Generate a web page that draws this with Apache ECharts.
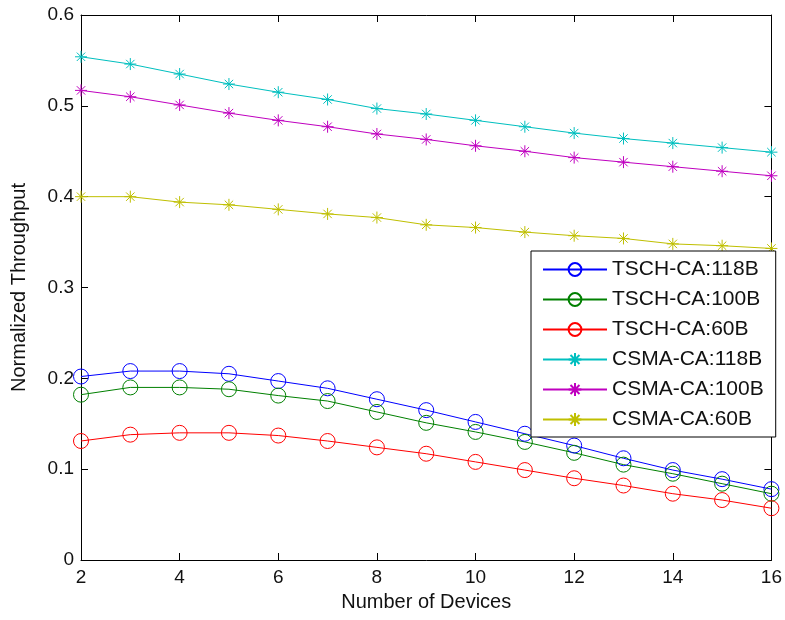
<!DOCTYPE html>
<html>
<head>
<meta charset="utf-8">
<script src="https://cdn.jsdelivr.net/npm/echarts@6/dist/echarts.min.js"></script>
<style>html,body{margin:0;padding:0;background:#fff}#c{width:785px;height:620px}</style>
</head>
<body>
<div id="c"></div>
<script>
const devices = [2,3,4,5,6,7,8,9,10,11,12,13,14,15,16];
const seriesNames = ['TSCH-CA:118B','TSCH-CA:100B','TSCH-CA:60B','CSMA-CA:118B','CSMA-CA:100B','CSMA-CA:60B'];
const tsch118 = [0.202,0.208,0.208,0.205,0.197,0.189,0.177,0.165,0.152,0.139,0.126,0.112,0.099,0.089,0.078];
const tsch100 = [0.182,0.190,0.190,0.188,0.181,0.175,0.163,0.151,0.141,0.130,0.118,0.105,0.095,0.084,0.073];
const tsch60  = [0.131,0.138,0.140,0.140,0.137,0.131,0.124,0.117,0.108,0.099,0.090,0.082,0.073,0.066,0.057];
const csma118 = [0.554,0.546,0.535,0.524,0.515,0.507,0.497,0.491,0.484,0.477,0.470,0.464,0.459,0.454,0.449];
const csma100 = [0.517,0.510,0.501,0.492,0.484,0.477,0.469,0.463,0.456,0.450,0.443,0.438,0.433,0.428,0.423];
const csma60  = [0.400,0.400,0.394,0.391,0.386,0.381,0.377,0.369,0.366,0.361,0.357,0.354,0.348,0.346,0.343];
const xTicks = [2,4,6,8,10,12,14,16];
const yTicks = [0,0.1,0.2,0.3,0.4,0.5,0.6];

const allData = [tsch118,tsch100,tsch60,csma118,csma100,csma60];
const colors = ['#0000ff','#008000','#ff0000','#00bfbf','#bf00bf','#bfbf00'];
const star = 'path://M0,-10L0,10M-10,0L10,0M-7,-7L7,7M-7,7L7,-7';
const FONT = 'Liberation Sans, Arial, sans-serif';

const chart = echarts.init(document.getElementById('c'), null, {renderer:'canvas'});
const series = allData.map((d,i)=>({
  name: seriesNames[i],
  type: 'line',
  data: d.map((v,j)=>[devices[j], v]),
  symbol: i < 3 ? 'circle' : star,
  symbolSize: i < 3 ? 15 : 12,
  showAllSymbol: true,
  animation: false,
  lineStyle: {color: colors[i], width: 1},
  itemStyle: {color: 'rgba(255,255,255,0)', borderColor: colors[i], borderWidth: 1},
  emphasis: {disabled: true}
}));

const axisCommon = {
  axisLine: {show: true, onZero: false, lineStyle: {color: '#000', width: 1}},
  axisTick: {show: true, inside: true, length: 7, lineStyle: {color: '#000'}},
  splitLine: {show: false}
};

chart.setOption({
  backgroundColor: '#fff',
  animation: false,
  textStyle: {fontFamily: FONT},
  grid: {left: 81, right: 12, top: 15, bottom: 60, containLabel: false},
  xAxis: [
    Object.assign({
      type: 'value', min: 2, max: 16, interval: 2, position: 'bottom',
      name: 'Number of Devices', nameLocation: 'middle', nameGap: 32,
      nameTextStyle: {fontSize: 20, color: '#111', fontFamily: FONT},
      axisLabel: {fontSize: 19, color: '#111', margin: 8, fontFamily: FONT,
        customValues: xTicks}
    }, axisCommon),
    Object.assign({
      type: 'value', min: 2, max: 16, interval: 2, position: 'top',
      axisLabel: {show: false}
    }, axisCommon)
  ],
  yAxis: [
    Object.assign({
      type: 'value', min: 0, max: 0.6, interval: 0.1, position: 'left',
      name: 'Normalized Throughput', nameLocation: 'middle', nameGap: 52,
      nameTextStyle: {fontSize: 20, color: '#111', fontFamily: FONT},
      axisLabel: {fontSize: 19, color: '#111', margin: 7, fontFamily: FONT,
        customValues: yTicks,
        formatter: v => (Math.round(v*10)/10).toString()}
    }, axisCommon),
    Object.assign({
      type: 'value', min: 0, max: 0.6, interval: 0.1, position: 'right',
      axisLabel: {show: false}
    }, axisCommon)
  ],
  legend: {
    data: seriesNames,
    orient: 'vertical',
    left: 531, top: 251,
    padding: [8, 12, 7, 11],
    itemGap: 9,
    itemWidth: 64, itemHeight: 16,
    backgroundColor: '#fff',
    borderColor: '#000', borderWidth: 1, borderRadius: 0,
    textStyle: {fontSize: 21, color: '#111', fontFamily: FONT},
    selectedMode: false
  },
  series: series
});
</script>
</body>
</html>
